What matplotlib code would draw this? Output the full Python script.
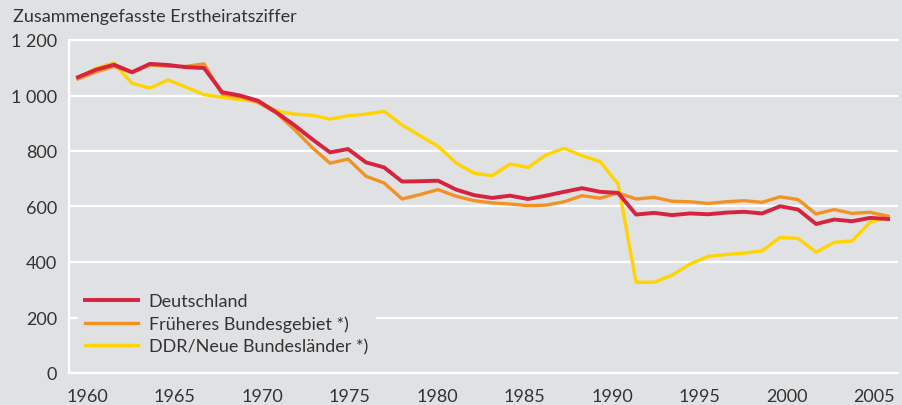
import numpy as np
import matplotlib.pyplot as plt

years = np.arange(1960, 2006)

# Deutschland
deutschland = [1066, 1093, 1111, 1084, 1114, 1110, 1102, 1099, 1012, 1000,
               981, 940, 894, 843, 795, 807, 759, 741, 690, 691,
               693, 661, 641, 631, 639, 627, 639, 653, 666, 653,
               649, 571, 577, 569, 575, 572, 578, 581, 575, 601,
               589, 537, 553, 547, 559, 555]
# Früheres Bundesgebiet
frueher = [1060, 1085, 1105, 1082, 1110, 1105, 1105, 1114, 1005, 995,
           975, 938, 879, 813, 756, 771, 709, 685, 627, 643,
           661, 637, 621, 613, 609, 603, 605, 617, 639, 630,
           649, 627, 633, 619, 617, 611, 617, 621, 615, 635,
           625, 573, 589, 575, 579, 565]
# DDR / Neue Bundesländer
ddr = [1062, 1098, 1117, 1044, 1027, 1056, 1030, 1003, 994, 985,
       979, 945, 933, 929, 915, 927, 933, 943, 894, 855,
       817, 757, 720, 711, 753, 741, 786, 810, 783, 762,
       681, 327, 327, 353, 393, 420, 427, 432, 440, 489,
       485, 435, 471, 476, 543, 561]

tick_years = np.arange(1960, 2006, 5)
yticks = [0, 200, 400, 600, 800, 1000, 1200]
ylabels = ['0', '200', '400', '600', '800', '1 000', '1 200']

bg = '#e0e1e3'
txt = '#333333'
fs = 13
plt.rcParams['font.family'] = ['Lato', 'DejaVu Sans']
plt.rcParams['font.size'] = fs

fig = plt.figure(figsize=(9.03, 4.06), dpi=100, facecolor=bg)
ax = fig.add_axes([69 / 903, 32 / 406, 829 / 903, 333 / 406], facecolor=bg)

ax.plot(years, ddr, color='#ffd400', lw=2.4, label='DDR/Neue Bundesländer *)', zorder=3)
ax.plot(years, frueher, color='#f39224', lw=2.4, label='Früheres Bundesgebiet *)', zorder=4)
ax.plot(years, deutschland, color='#d52340', lw=2.8, label='Deutschland', zorder=5)

ax.set_xlim(1959.5, 2005.55)
ax.set_ylim(0, 1200)
ax.set_yticks(yticks)
ax.set_yticklabels(ylabels)
# tick labels sit slightly off the data years in the original
ax.set_xticks(1960.5 + (tick_years - 1960) * 0.972)
ax.set_xticklabels([str(y) for y in tick_years])
ax.tick_params(length=0, colors=txt, labelsize=fs)
ax.tick_params(axis='y', pad=8.5)
ax.tick_params(axis='x', pad=11)

ax.grid(axis='y', color='white', lw=1.6, zorder=1)
ax.set_axisbelow(True)
for s in ['top', 'bottom', 'left']:
    ax.spines[s].set_color('white')
    ax.spines[s].set_linewidth(1.6)
ax.spines['right'].set_visible(False)

h, l = ax.get_legend_handles_labels()
leg = ax.legend(h[::-1], l[::-1], loc='upper left', bbox_to_anchor=(0.011, 0.262),
                frameon=True, facecolor=bg, edgecolor=bg, framealpha=1,
                handlelength=2.9, handletextpad=0.6, labelspacing=0.36,
                borderaxespad=0, borderpad=0.4, fontsize=fs, fancybox=False)
for t in leg.get_texts():
    t.set_color(txt)

fig.text(13 / 903, 1 - 22 / 406, 'Zusammengefasste Erstheiratsziffer',
         color=txt, fontsize=fs, va='baseline', ha='left')

fig.savefig('out.png', dpi=100, facecolor=bg)
